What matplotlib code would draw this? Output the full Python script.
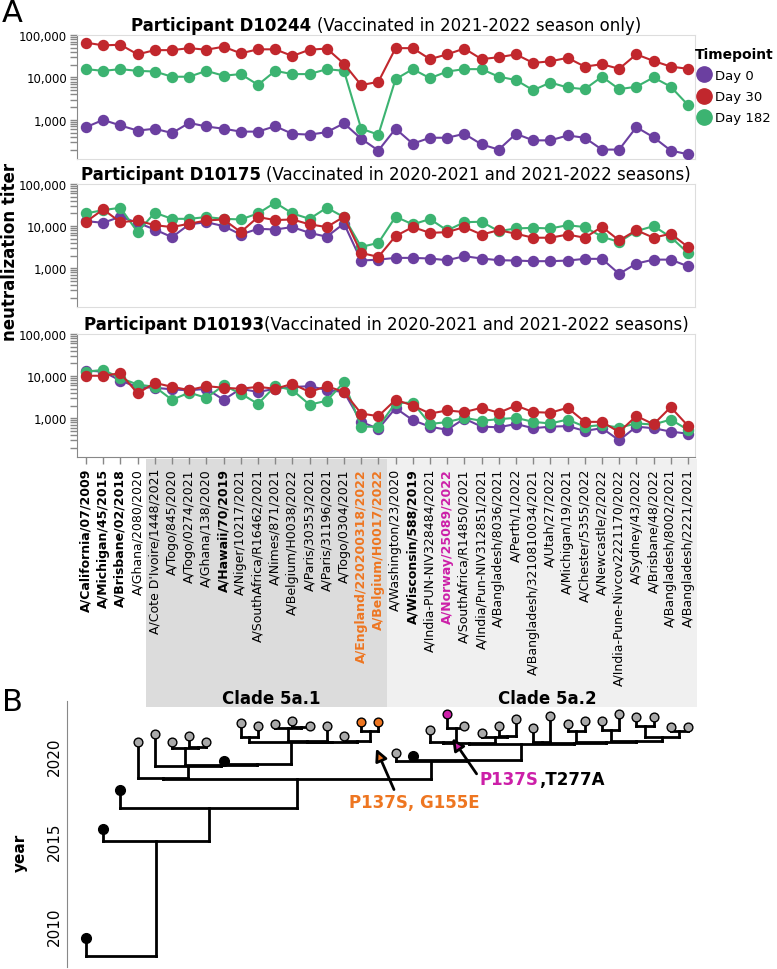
import numpy as np
import matplotlib
matplotlib.use("agg")
import matplotlib.pyplot as plt
from matplotlib.lines import Line2D
from matplotlib.patches import Rectangle, FancyArrowPatch
from matplotlib.collections import LineCollection
from matplotlib.ticker import FixedLocator, LogLocator, FuncFormatter, NullFormatter
from matplotlib.offsetbox import TextArea, HPacker, AnnotationBbox
import matplotlib.transforms as mtransforms

# ---- data -------------------------------------------------------------
strains = [
    "A/California/07/2009", "A/Michigan/45/2015", "A/Brisbane/02/2018",
    "A/Ghana/2080/2020", "A/Cote D'Ivoire/1448/2021", "A/Togo/845/2020",
    "A/Togo/0274/2021", "A/Ghana/138/2020", "A/Hawaii/70/2019",
    "A/Niger/10217/2021", "A/SouthAfrica/R16462/2021", "A/Nimes/871/2021",
    "A/Belgium/H0038/2022", "A/Paris/30353/2021", "A/Paris/31196/2021",
    "A/Togo/0304/2021", "A/England/220200318/2022", "A/Belgium/H0017/2022",
    "A/Washington/23/2020", "A/Wisconsin/588/2019", "A/India-PUN-NIV328484/2021",
    "A/Norway/25089/2022", "A/SouthAfrica/R14850/2021", "A/India/Pun-NIV312851/2021",
    "A/Bangladesh/8036/2021", "A/Perth/1/2022", "A/Bangladesh/3210810034/2021",
    "A/Utah/27/2022", "A/Michigan/19/2021", "A/Chester/5355/2022",
    "A/Newcastle/2/2022", "A/India-Pune-Nivcov2221170/2022", "A/Sydney/43/2022",
    "A/Brisbane/48/2022", "A/Bangladesh/8002/2021", "A/Bangladesh/2221/2021",
]
vaccine_strains = [0, 1, 2, 8, 19]
orange_strains = [16, 17]
magenta_strains = [21]

timepoints = ["Day 0", "Day 30", "Day 182"]

d10244_day0 = [675, 1000, 740, 560, 620, 490, 850, 700, 620, 530, 530, 710, 470, 450, 515, 830, 360, 190,
               620, 275, 380, 380, 470, 265, 200, 470, 330, 330, 430, 380, 200, 200, 675, 390, 190, 155]
d10244_day30 = [66000, 57000, 59000, 35000, 44000, 44000, 49000, 45000, 53000, 37000, 46000, 46000, 32000,
                45000, 48000, 21000, 6600, 7900, 49000, 49000, 27000, 35000, 48000, 27000, 30000, 35000,
                22000, 24000, 29000, 18000, 20500, 16000, 35000, 24500, 18000, 16000]
d10244_day182 = [15700, 14300, 15700, 14300, 13800, 10400, 10400, 14300, 11000, 12000, 6700, 14300, 12000,
                 12000, 15700, 14300, 620, 450, 9100, 15700, 9600, 13800, 15700, 15700, 10400, 8700, 5000,
                 7600, 5800, 5300, 10400, 5300, 6050, 10000, 6050, 2250]

d10175_day0 = [13100, 12000, 16700, 12000, 8300, 5470, 11000, 12400, 10000, 6300, 8640, 8300, 9500, 6900,
               5600, 11500, 1520, 1600, 1760, 1760, 1700, 1550, 1930, 1700, 1550, 1520, 1470, 1470, 1520,
               1670, 1670, 735, 1290, 1600, 1600, 1110]
d10175_day30 = [12700, 24900, 12400, 13600, 10500, 9500, 11400, 13600, 14400, 7200, 16400, 13900, 14400,
                11000, 9500, 16700, 2300, 1860, 5800, 9500, 6900, 7200, 9500, 6300, 8000, 6600, 5300, 5300,
                6300, 5300, 9600, 4560, 8000, 5300, 6600, 3200]
d10175_day182 = [20000, 24000, 27300, 7200, 20800, 14900, 14900, 16400, 14900, 14400, 20000, 36000, 20000,
                 14900, 27300, 16400, 3200, 4000, 16700, 11000, 14700, 7900, 12400, 12700, 7600, 8800, 9100,
                 8800, 10500, 9500, 5600, 4200, 7600, 10000, 5500, 2300]

d10193_day0 = [13500, 12800, 7800, 5500, 5300, 4840, 4590, 5000, 2740, 5000, 4200, 5000, 5500, 5770, 4670,
               4200, 820, 560, 1740, 900, 630, 530, 980, 630, 610, 730, 580, 630, 650, 500, 580, 300, 630,
               580, 480, 430]
d10193_day30 = [10200, 10200, 11700, 3900, 6900, 5570, 4670, 5770, 5300, 5000, 5570, 5000, 6540, 4200, 5770,
                4200, 1290, 1120, 2740, 2000, 1290, 1530, 1400, 1770, 1350, 2000, 1400, 1350, 1770, 820, 820,
                470, 1130, 720, 1830, 660]
d10193_day182 = [12800, 14000, 9000, 6300, 5570, 2740, 4050, 3050, 6000, 3850, 2180, 5770, 4670, 2100, 2600,
                 7150, 630, 630, 2300, 2350, 730, 810, 1020, 870, 950, 1020, 820, 750, 930, 630, 690, 600,
                 750, 710, 930, 530]

participants = [
    ("Participant D10244", "(Vaccinated in 2021-2022 season only)", True,
     [d10244_day0, d10244_day30, d10244_day182]),
    ("Participant D10175", "(Vaccinated in 2020-2021 and 2021-2022 seasons)", True,
     [d10175_day0, d10175_day30, d10175_day182]),
    ("Participant D10193", "(Vaccinated in 2020-2021 and 2021-2022 seasons)", False,
     [d10193_day0, d10193_day30, d10193_day182]),
]

clades = [("Clade 5a.1", 4, 17), ("Clade 5a.2", 18, 35)]

# tip sampling dates (decimal years), same order as strains
tip_years = [2009.29, 2015.71, 2018.0, 2020.82, 2021.29, 2020.82, 2021.18, 2020.82, 2019.7,
             2021.94, 2021.76, 2021.88, 2022.06, 2021.76, 2021.76, 2021.18, 2022.0, 2022.0,
             2020.18, 2020.0, 2021.53, 2022.47, 2021.76, 2021.35, 2021.76, 2022.18, 2021.65,
             2022.35, 2021.88, 2022.06, 2022.06, 2022.47, 2022.29, 2022.29, 2021.71, 2021.71]

# tree: (node date, [children]); leaves are strain indices
clade_5a1_tail = (2020.82, [(2021.12, [9, 10]),
                            (2020.85, [(2020.86, [(2021.65, [11, (2021.7, [12, 13])]), 14]),
                                       (2020.88, [15, (2021.47, [16, 17])])])])
clade_5a1 = (2018.7, [3, (2019.41, [4, (2019.47, [(2020.47, [5, (2020.53, [6, 7])]),
                                                   (2019.53, [8, clade_5a1_tail])])])])
clade_5a2_core = (2020.70, [
    (2020.78, [(2020.82, [20, (2021.65, [21, 22])]), (2021.12, [23, (2021.18, [24, 25])])]),
    (2020.78, [(2020.82, [26, 27]),
               (2020.82, [(2021.47, [28, 29]),
                          (2020.86, [(2021.53, [30, 31]),
                                     (2021.12, [(2021.76, [32, 33]), (2021.47, [34, 35])])])])])])
clade_5a2 = (2019.71, [18, (2019.74, [19, clade_5a2_core])])
tree = (2008.24, [0, (2015.0, [1, (2016.94, [2, (2018.65, [clade_5a1, clade_5a2])])])])

# ---- style ------------------------------------------------------------
colors = ["#6b3fa0", "#c1272d", "#3cb371"]
ORANGE = "#ee7621"
MAGENTA = "#cc1fa8"
AXGRAY = "#888888"
BOXGRAY = "#dddddd"

plt.rcParams["font.family"] = ["DejaVu Sans"]

fig = plt.figure(figsize=(7.77, 9.70), dpi=100)
W, H = 777.0, 970.0


def px_axes(left, top, right, bottom):
    return fig.add_axes([left / W, 1 - bottom / H, (right - left) / W, (bottom - top) / H])


x = np.arange(len(strains))
xlim_a = (-0.523, 35.41)

panel_px = [(36, 160), (185, 308), (335, 458)]
axes = []
for k, ((bold, rest, space, series), (top, bot)) in enumerate(zip(participants, panel_px)):
    ax = px_axes(77, top, 695, bot)
    axes.append(ax)
    for idx in [0, 2, 1]:
        ax.plot(x, series[idx], color=colors[idx], lw=1.5, marker="o", ms=7.2,
                mec=colors[idx], mfc=colors[idx], zorder=3 + (idx == 1))
    ax.set_yscale("log")
    ax.set_ylim(120, 100000)
    ax.set_xlim(*xlim_a)
    ax.yaxis.set_major_locator(FixedLocator([1e3, 1e4, 1e5]))
    ax.yaxis.set_major_formatter(FuncFormatter(lambda v, p: f"{int(round(v)):,}"))
    ax.yaxis.set_minor_locator(LogLocator(base=10, subs=np.arange(2, 10)))
    ax.yaxis.set_minor_formatter(NullFormatter())
    ax.tick_params(axis="y", which="both", length=5, width=1, color=AXGRAY, labelsize=8.5, pad=2)
    for s in ["top", "right", "bottom"]:
        ax.spines[s].set_color(BOXGRAY)
    ax.spines["left"].set_color(AXGRAY)
    if k < 2:
        ax.set_xticks([])
    else:
        ax.spines["bottom"].set_color(AXGRAY)
        ax.set_xticks(x)
        ax.set_xticklabels(strains, rotation=90, fontsize=9, va="top", ha="center")
        ax.tick_params(axis="x", length=5, width=1, color=AXGRAY, pad=3)
        for i, lab in enumerate(ax.get_xticklabels()):
            if i in vaccine_strains:
                lab.set_fontweight("bold")
            if i in orange_strains:
                lab.set_fontweight("bold")
                lab.set_color(ORANGE)
            if i in magenta_strains:
                lab.set_fontweight("bold")
                lab.set_color(MAGENTA)
    box = HPacker(children=[TextArea(bold, textprops=dict(fontsize=12, fontweight="bold")),
                            TextArea(rest, textprops=dict(fontsize=12))],
                  align="baseline", pad=0, sep=3.8 if space else 0)
    ab = AnnotationBbox(box, (0.5, 1.0), xycoords="axes fraction", box_alignment=(0.5, 0),
                        frameon=False, pad=0, xybox=(0, 1), boxcoords="offset points")
    ax.add_artist(ab)

# legend
handles = [Line2D([], [], ls="", marker="o", ms=11, color=c) for c in colors]
leg = axes[0].legend(handles, timepoints, title="Timepoint", loc="upper left",
                     bbox_to_anchor=(1.0, 0.905), frameon=False, fontsize=9.5,
                     handletextpad=0.1, labelspacing=0.62, borderaxespad=0, borderpad=0,
                     handlelength=1.4, alignment="left")
leg.get_title().set_fontweight("bold")
leg.get_title().set_fontsize(10)

fig.text(10 / W, 1 - 252 / H, "neutralization titer", rotation=90, ha="center", va="center",
         fontsize=12, fontweight="bold")
fig.text(2 / W, 1 - 14 / H, "A", fontsize=22, ha="left", va="center")

# clade shading below the strain labels
ax3 = axes[2]
shade_tr = mtransforms.blended_transform_factory(ax3.transData, fig.transFigure)
for (name, i0, i1), fc in zip(clades, ["#dcdcdc", "#f0f0f0"]):
    ax3.add_patch(Rectangle((i0 - 0.5, 1 - 708 / H), (i1 - i0 + 1), (708 - 460) / H,
                            transform=shade_tr, facecolor=fc, edgecolor="none",
                            clip_on=False, zorder=-5))
    fig.text(ax3.transData.transform(((i0 + i1) / 2 + 0.3, 0))[0] / fig.bbox.width, 1 - 699 / H, name,
             ha="center", va="center", fontsize=12, fontweight="bold")

# ---- panel B: time tree ------------------------------------------------
axb = px_axes(67, 702, 695, 968)
axb.patch.set_visible(False)
axb.set_xlim((67 - 86) / 17.2, (695 - 86) / 17.2)
axb.set_ylim(2007.59, 2023.24)
for s in ["top", "right", "bottom"]:
    axb.spines[s].set_visible(False)
axb.spines["left"].set_color(AXGRAY)
axb.set_xticks([])
axb.set_yticks([2010, 2015, 2020])
axb.tick_params(axis="y", length=0, labelsize=11, pad=4)
for lab in axb.get_yticklabels():
    lab.set_rotation(90)
    lab.set_va("center")
fig.text(20 / W, 1 - 853 / H, "year", rotation=90, ha="center", va="center",
         fontsize=11, fontweight="bold")
fig.text(2 / W, 1 - 703 / H, "B", fontsize=22, ha="left", va="center")

segments = []


def layout(node):
    if isinstance(node, int):
        return float(node), tip_years[node]
    date, children = node
    xs = []
    for ch in children:
        cx, cy = layout(ch)
        segments.append([(cx, date), (cx, cy)])
        xs.append(cx)
    segments.append([(min(xs), date), (max(xs), date)])
    return (xs[0] + xs[-1]) / 2, date


layout(tree)
axb.add_collection(LineCollection(segments, colors="black", linewidths=2, capstyle="projecting",
                                  zorder=2))
for i, yr in enumerate(tip_years):
    if i in vaccine_strains:
        axb.plot(i, yr, "o", ms=7, color="black", zorder=4)
    else:
        fc = ORANGE if i in orange_strains else MAGENTA if i in magenta_strains else "#a9a9a9"
        axb.plot(i, yr, "o", ms=6.3, mfc=fc, mec="black", mew=1, zorder=4)

# mutation annotations
arr1 = FancyArrowPatch((17.97, 2017.88), (16.8, 2020.59), arrowstyle="-|>", mutation_scale=18,
                       fc=ORANGE, ec="black", lw=2, zorder=5)
axb.add_patch(arr1)
axb.text(19.1, 2017.29, "P137S, G155E", color=ORANGE, fontsize=12, fontweight="bold",
         ha="center", va="center")
arr2 = FancyArrowPatch((22.8, 2018.82), (21.2, 2021.18), arrowstyle="-|>", mutation_scale=18,
                       fc=MAGENTA, ec="black", lw=2, zorder=5)
axb.add_patch(arr2)
mbox = HPacker(children=[TextArea("P137S", textprops=dict(fontsize=12, fontweight="bold", color=MAGENTA)),
                         TextArea(",T277A", textprops=dict(fontsize=12, fontweight="bold"))],
               align="baseline", pad=0, sep=0)
axb.add_artist(AnnotationBbox(mbox, (22.9, 2018.65), xycoords="data", box_alignment=(0, 0.5),
                              frameon=False, pad=0))

fig.savefig("out.png", dpi=100)
